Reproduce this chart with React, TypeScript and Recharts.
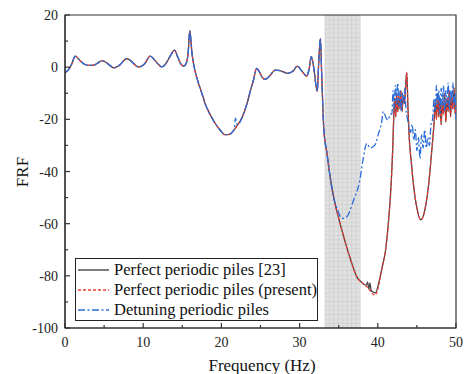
import React from "react";
import { LineChart, Line, XAxis, YAxis, ReferenceArea, Legend } from "recharts";

type Pt = [number, number];

// frequency (Hz), FRF
const lowBand: Pt[] = [
  [0, -2], [0.4, -1.2], [0.9, 1.5], [1.3, 4.2], [1.9, 2.6], [2.5, 1.1], [3.0, 0.7],
  [3.7, 0.8], [4.2, 1.6], [4.7, 2.5], [5.4, 1.5], [5.9, 0.3], [6.2, -0.3], [6.9, 0.6],
  [7.9, 3.3], [8.6, 2], [9.1, 0.5], [9.4, 0.1], [10.1, 1], [10.9, 4.2], [11.5, 2.6],
  [12.1, 0.6], [12.4, 0.1], [12.9, 1.4], [13.5, 4.5], [14.0, 6.5], [14.4, 4],
  [14.8, 1.3], [15.2, 0.4], [15.5, 1.5], [15.75, 5.5], [15.95, 13.9], [16.25, 5],
  [16.6, -1], [17.0, -5.5], [17.5, -10], [17.9, -13.8], [18.5, -17.8], [19.2, -21.5],
  [19.8, -24], [20.5, -25.9], [21.0, -25.8], [21.5, -24.5],
];

const detuneBlip: Pt[] = [[21.65, -23.5], [21.8, -19.5], [22.0, -21.8]];

const midBand: Pt[] = [
  [22.1, -22], [22.6, -19.6], [23.0, -16.5], [23.4, -12.6], [23.8, -8], [24.1, -5],
  [24.5, -0.5], [24.8, -1.5], [25.2, -3.8], [25.6, -4.7], [26.1, -3.6], [26.9, -1.1],
  [27.5, -1.3], [28.5, -2.4], [29.2, -1.4], [29.7, 0.4], [30.3, -1.5], [30.9, -3.4],
  [31.2, -1], [31.5, 4], [31.8, 0], [32.25, -9.2], [32.45, 2], [32.65, 11], [32.85, -5],
  [33.1, -24], [33.5, -33], [33.9, -42], [34.4, -50.5],
];

const bandDecay: Pt[] = [
  [34.95, -57.4], [35.5, -63.5], [36.0, -68.8], [36.6, -74.5], [37.3, -80.3], [38.1, -82.9],
];

const referenceDip: Pt[] = [
  [38.5, -83.6], [38.7, -82.4], [38.85, -85], [39.0, -82.8], [39.15, -85.6],
  [39.4, -86.2], [39.7, -86.5], [40.1, -83],
];

const presentDip: Pt[] = [[38.6, -84.2], [39.1, -86], [39.6, -87.4], [40.1, -84]];

const upperTail: Pt[] = [
  [40.5, -77.5], [41.0, -70], [41.4, -58], [41.7, -45], [41.9, -32], [42.05, -18],
  [42.15, -12], [42.3, -19], [42.4, -10], [42.55, -17], [42.7, -11], [42.85, -16],
  [42.95, -9], [43.1, -17], [43.25, -11], [43.4, -14], [43.55, -8], [43.7, -2],
  [43.85, -15], [44.0, -26], [44.3, -37], [44.6, -46], [45.0, -54], [45.5, -58.5],
  [46.0, -55], [46.5, -45], [46.9, -32], [47.2, -21], [47.35, -13], [47.5, -20],
  [47.65, -10], [47.8, -19], [47.95, -12], [48.1, -22], [48.25, -13], [48.4, -18],
  [48.55, -10], [48.7, -21], [48.85, -12], [49.0, -17], [49.15, -9], [49.3, -19],
  [49.45, -11], [49.6, -16], [49.75, -8], [49.9, -18], [50, -14],
];

const detuneTail: Pt[] = [
  [34.9, -55], [35.4, -58], [36.0, -57.4], [36.9, -51], [37.7, -43.3], [38.1, -35.6],
  [38.6, -29.2], [39.0, -31], [39.6, -30], [40.1, -25.4], [40.5, -21], [40.7, -17],
  [41.0, -19], [41.3, -20.3], [41.6, -18], [41.8, -18], [41.95, -9], [42.1, -16],
  [42.25, -7], [42.4, -14], [42.55, -6], [42.7, -15], [42.85, -9], [43.0, -17],
  [43.15, -10], [43.3, -14], [43.45, -8], [43.6, -16], [43.8, -20], [44.0, -23],
  [44.2, -25], [44.4, -22], [44.6, -28], [44.8, -24], [45.0, -32], [45.2, -27],
  [45.4, -35], [45.6, -26], [45.8, -31], [46.0, -24], [46.2, -31], [46.4, -27],
  [46.6, -30], [46.8, -22], [47.0, -20], [47.2, -12], [47.35, -17], [47.5, -7],
  [47.65, -14], [47.8, -9], [47.95, -18], [48.1, -8], [48.25, -15], [48.4, -7],
  [48.55, -17], [48.7, -9], [48.85, -14], [49.0, -6], [49.15, -16], [49.3, -9],
  [49.45, -13], [49.6, -6], [49.75, -15], [49.9, -10], [50, -21],
];

const bandGap = [33.2, 37.8];
const xTicks = [0, 5, 10, 15, 20, 25, 30, 35, 40, 45, 50];
const yTicks = [-100, -90, -80, -70, -60, -50, -40, -30, -20, -10, 0, 10, 20];
const seriesNames = [
  "Perfect periodic piles [23]",
  "Perfect periodic piles (present)",
  "Detuning periodic piles",
];

const toRows = (pts: Pt[]) => pts.map(([f, v]) => ({ f, v }));

const referenceData = toRows([...lowBand, ...midBand, ...bandDecay, ...referenceDip, ...upperTail]);
const presentData = toRows([...lowBand, ...midBand, ...bandDecay, ...presentDip, ...upperTail]);
const detunedData = toRows([...lowBand, ...detuneBlip, ...midBand, ...detuneTail]);

const FONT = "Times New Roman, Liberation Serif, DejaVu Serif, serif";
const AXIS = "#333";
const colors = ["#444444", "#ee3b36", "#2a6ddb"];
const dashes = [undefined, "3 2", "7 2.5 2 2.5"];

const XTick = (props: any) => {
  const { x, y, payload } = props;
  const major = payload.value % 10 === 0;
  return (
    <g>
      <line x1={x} x2={x} y1={y} y2={y - (major ? 5 : 3)} stroke={AXIS} strokeWidth={1.2} />
      {major && (
        <text x={x} y={y + 19} textAnchor="middle" style={{ fontFamily: FONT }} fontSize={14} fill="#222">
          {payload.value}
        </text>
      )}
    </g>
  );
};

const YTick = (props: any) => {
  const { x, y, payload } = props;
  const major = payload.value % 20 === 0;
  return (
    <g>
      <line x1={x} x2={x + (major ? 5 : 3)} y1={y} y2={y} stroke={AXIS} strokeWidth={1.2} />
      {major && (
        <text x={x - 7} y={y + 5} textAnchor="end" style={{ fontFamily: FONT }} fontSize={14} fill="#222">
          {payload.value}
        </text>
      )}
    </g>
  );
};

const BandShape = (p: any) => (
  <g>
    <defs>
      <pattern id="bandGrid" width={4.4} height={4.4} patternUnits="userSpaceOnUse" x={p.x} y={p.y}>
        <rect width={4.4} height={4.4} fill="#e0e0e0" />
        <path d="M 4.4 0 L 0 0 0 4.4" fill="none" stroke="#c4c4c4" strokeWidth={0.8} />
      </pattern>
    </defs>
    <rect x={p.x} y={p.y} width={p.width} height={p.height} fill="url(#bandGrid)" />
  </g>
);

const LegendBox = () => (
  <div
    style={{
      border: "1px solid #222",
      background: "#fff",
      width: 241,
      height: 61,
      fontFamily: FONT,
      fontSize: 16.5,
      color: "#111",
      boxSizing: "content-box",
    }}
  >
    {seriesNames.map((name, i) => (
      <div key={name} style={{ display: "flex", alignItems: "center", height: 20, marginTop: i === 0 ? 1 : 0 }}>
        <svg width={38} height={20} style={{ flex: "none" }}>
          <line x1={2} x2={33} y1={10} y2={10} stroke={colors[i]} strokeWidth={1.4} strokeDasharray={dashes[i]} />
        </svg>
        <span style={{ whiteSpace: "nowrap" }}>{name}</span>
      </div>
    ))}
  </div>
);

export default function App() {
  return (
    <div style={{ position: "absolute", left: 0, top: 0, width: 464, height: 374, background: "#fff" }}>
      <LineChart width={464} height={374} margin={{ top: 15, right: 8, left: 0, bottom: 0 }}>
        <XAxis
          dataKey="f"
          type="number"
          domain={[0, 50]}
          ticks={xTicks}
          tick={<XTick />}
          tickLine={false}
          tickSize={0}
          tickMargin={0}
          height={46}
          stroke={AXIS}
          strokeWidth={1.2}
          interval={0}
          allowDataOverflow
          label={{
            content: () => (
              <text x={262} y={371} textAnchor="middle" style={{ fontFamily: FONT }} fontSize={17} fill="#111">
                Frequency (Hz)
              </text>
            ),
          }}
        />
        <YAxis
          type="number"
          domain={[-100, 20]}
          ticks={yTicks}
          tick={<YTick />}
          tickLine={false}
          tickSize={0}
          tickMargin={0}
          width={65}
          stroke={AXIS}
          strokeWidth={1.2}
          interval={0}
          allowDataOverflow
          label={{
            content: () => (
              <text
                x={22}
                y={172}
                transform="rotate(-90 22 172)"
                textAnchor="middle"
                dominantBaseline="central"
                style={{ fontFamily: FONT }}
                fontSize={17}
                fill="#111"
              >
                FRF
              </text>
            ),
          }}
        />
        <ReferenceArea x1={bandGap[0]} x2={bandGap[1]} y1={-100} y2={20} shape={BandShape} />
        <Line
          data={referenceData}
          dataKey="v"
          name={seriesNames[0]}
          type="monotone"
          stroke={colors[0]}
          strokeWidth={1.3}
          dot={false}
          isAnimationActive={false}
        />
        <Line
          data={presentData}
          dataKey="v"
          name={seriesNames[1]}
          type="monotone"
          stroke={colors[1]}
          strokeWidth={1.3}
          strokeDasharray={dashes[1]}
          dot={false}
          isAnimationActive={false}
        />
        <Line
          data={detunedData}
          dataKey="v"
          name={seriesNames[2]}
          type="monotone"
          stroke={colors[2]}
          strokeWidth={1.3}
          strokeDasharray={dashes[2]}
          dot={false}
          isAnimationActive={false}
        />
        <ReferenceArea x1={0} x2={50} y1={-100} y2={20} fill="none" stroke={AXIS} strokeWidth={1.2} />
        <Legend
          layout="horizontal"
          verticalAlign="middle"
          align="center"
          content={<LegendBox />}
          wrapperStyle={{ left: 75, top: 258, width: 243, height: 63 }}
        />
      </LineChart>
    </div>
  );
}
